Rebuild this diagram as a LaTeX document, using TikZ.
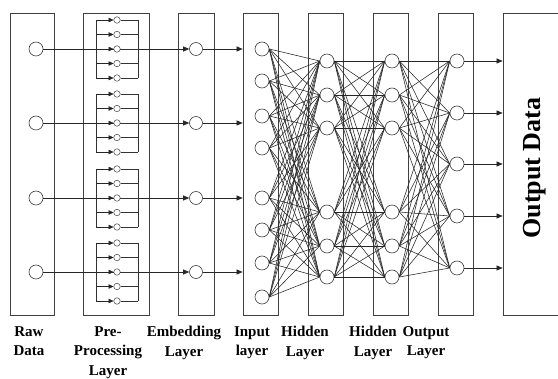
\documentclass[tikz,border=0pt]{standalone}
\usepackage{fontspec}
\setmainfont{Liberation Serif}
\usetikzlibrary{arrows.meta}
\begin{document}
\begin{tikzpicture}[x=1pt,y=-1pt,
  layerbox/.style={draw=black!75, line width=0.7pt, inner sep=0pt, minimum height=302pt},
  neuron/.style={circle, draw=black!75, line width=0.6pt, minimum size=14pt, inner sep=0pt, fill=white},
  smallunit/.style={circle, draw=black!75, line width=0.5pt, minimum size=6.5pt, inner sep=0pt, fill=white},
  link/.style={draw=black!85, line width=0.55pt},
  wire/.style={draw=black!80, line width=0.55pt},
  flow/.style={draw=black!85, line width=0.6pt, -{Triangle[length=6pt,width=5pt]}},
  smallflow/.style={draw=black!85, line width=0.55pt, -{Triangle[length=5pt,width=4.5pt]}},
  lbl/.style={font=\bfseries\fontsize{15}{19.5}\selectfont, align=center, anchor=north, inner sep=0pt}
]
\useasboundingbox (0,0) rectangle (558,379);
\fill[white] (0,0) rectangle (558,379);

% layer boxes
\node[layerbox, minimum width=44pt] (rawbox) at (32,164) {};
\node[layerbox, minimum width=66pt] (prebox) at (116,164) {};
\node[layerbox, minimum width=36pt] (embbox) at (196,164) {};
\node[layerbox, minimum width=35pt] (inbox) at (260.5,164) {};
\node[layerbox, minimum width=35pt] (hidboxa) at (325.5,164) {};
\node[layerbox, minimum width=35pt] (hidboxb) at (390.5,164) {};
\node[layerbox, minimum width=35pt] (outbox) at (455.5,164) {};
\node[layerbox, minimum width=62pt] (databox) at (534,164) {};
\node[rotate=90, font=\bfseries\fontsize{26}{30}\selectfont, inner sep=0pt] (datatext) at (535,168) {Output Data};

% raw data and embedding units
\foreach \y [count=\k] in {49,123,198,272} {
  \node[neuron] (r\k) at (36,\y) {};
  \node[neuron, minimum size=13pt] (e\k) at (196,\y) {};
  \draw[flow] (r\k) -- (e\k);
  \draw[flow] (e\k) -- (e\k -| inbox.west);
}

% pre-processing groups
\foreach \m [count=\k] in {49,123,198,272} {
  \coordinate (lb\k) at (96,\m);
  \coordinate (rb\k) at (138,\m);
  \draw[wire] ({96},{\m-29}) -- ({96},{\m+29});
  \draw[wire] ({138},{\m-29}) -- ({138},{\m+29});
  \foreach \j [count=\n] in {-2,-1,0,1,2} {
    \node[smallunit] (p\k\n) at ({117},{\m+14.5*(\j)}) {};
    \draw[smallflow] (p\k\n -| lb\k) -- (p\k\n.west);
    \draw[wire] (p\k\n.east) -- (p\k\n -| rb\k);
  }
}

% network units
\foreach \y [count=\k] in {49,81,116,148,198,230,263,297}
  \node[neuron] (i\k) at (262,\y) {};
\foreach \y [count=\k] in {61,95,128,212,246,277} {
  \node[neuron] (h\k) at (327,\y) {};
  \node[neuron] (g\k) at (392,\y) {};
}
\foreach \y [count=\k] in {61,113,164,216,268} {
  \node[neuron] (o\k) at (457,\y) {};
  \draw[flow] (o\k) -- (o\k -| databox.west);
}

% dense connections
\foreach \a in {1,...,8}
  \foreach \b in {1,...,6}
    \draw[link] (i\a.east) -- (h\b.west);
\foreach \a in {1,...,6}
  \foreach \b in {1,...,6}
    \draw[link] (h\a.east) -- (g\b.west);
\foreach \a in {1,...,6}
  \foreach \b in {1,...,5}
    \draw[link] (g\a.east) -- (o\b.west);

% captions
\node[lbl] (c1) at (29,326) {Raw\\Data};
\node[lbl] (c2) at (108,326) {Pre-\\Processing\\Layer};
\node[lbl] (c3) at (184,326) {Embedding\\Layer};
\node[lbl] (c4) at (252,326) {Input\\layer};
\node[lbl] (c5) at (305,326) {Hidden\\Layer};
\node[lbl] (c6) at (373,326) {Hidden\\Layer};
\node[lbl] (c7) at (426,326) {Output\\Layer};
\end{tikzpicture}
\end{document}
